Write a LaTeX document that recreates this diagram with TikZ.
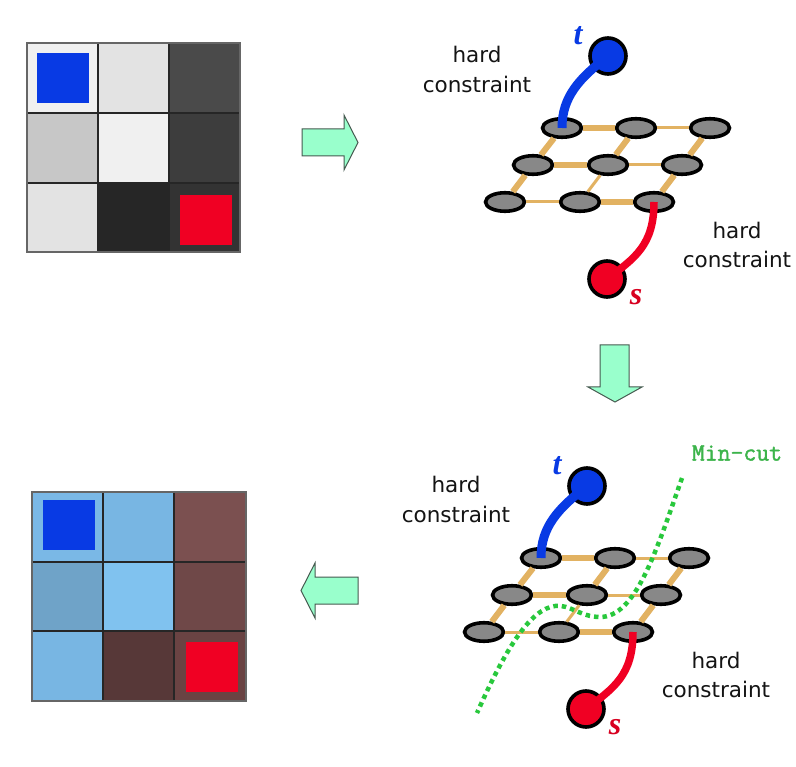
\documentclass[tikz,border=0pt]{standalone}
\usepackage{fontspec}
\newfontfamily\labelsans{DejaVu Sans}
\newfontfamily\termserif{Liberation Serif}
\newfontfamily\cutmono[FakeBold=1.6]{Latin Modern Mono}
\usetikzlibrary{shapes.geometric}

\definecolor{edgetan}{RGB}{226,178,98}
\definecolor{vtxgray}{RGB}{136,136,136}
\definecolor{sinkblue}{RGB}{8,58,228}
\definecolor{srcred}{RGB}{240,0,35}
\definecolor{arrowmint}{RGB}{153,255,204}
\definecolor{arrowedge}{RGB}{70,90,80}
\definecolor{cutgreen}{RGB}{40,200,60}
\definecolor{cuttext}{RGB}{60,180,75}
% segmented image palette
\definecolor{segA}{RGB}{122,184,230}
\definecolor{segB}{RGB}{120,182,227}
\definecolor{segC}{RGB}{123,80,80}
\definecolor{segD}{RGB}{111,163,200}
\definecolor{segE}{RGB}{128,194,239}
\definecolor{segF}{RGB}{111,72,72}
\definecolor{segG}{RGB}{87,56,56}
\definecolor{segH}{RGB}{106,67,67}

\tikzset{
  vtx/.style={ellipse, draw=black, line width=3.6pt, fill=vtxgray,
    minimum width=39pt, minimum height=18.5pt, inner sep=0pt},
  linkthick/.style={draw=edgetan, line width=6pt},
  linkthin/.style={draw=edgetan, line width=3pt},
  terminal/.style={circle, draw=black, line width=3.6pt,
    minimum size=36pt, inner sep=0pt},
  tlink/.style={draw=sinkblue, line width=9pt},
  slink/.style={draw=srcred, line width=7.5pt},
  termlabel/.style={font=\termserif\bfseries\itshape\fontsize{32}{32}\selectfont, inner sep=0pt},
  hardlabel/.style={font=\labelsans\fontsize{21.5}{29.5}\selectfont, align=center,
    text=black!92, inner sep=0pt},
  flowarrow/.style={fill=arrowmint, draw=arrowedge, line width=1pt, line join=miter},
  cellgrid/.style={draw=black!85, line width=1.2pt},
  cellframe/.style={draw=black!60, line width=1.6pt},
}

% s-t graph on a 3x3 lattice with its two hard constraints; #1 is a name prefix
\newcommand\stlattice[2]{%
\begin{scope}[shift={#2}]
  \node[vtx] (#1-11) at (562,128) {};
  \node[vtx] (#1-12) at (636,128) {};
  \node[vtx] (#1-13) at (710,128) {};
  \node[vtx] (#1-21) at (533,165) {};
  \node[vtx] (#1-22) at (608,165) {};
  \node[vtx] (#1-23) at (682,165) {};
  \node[vtx] (#1-31) at (505,202) {};
  \node[vtx] (#1-32) at (580,202) {};
  \node[vtx] (#1-33) at (654,202) {};
  % horizontal links
  \draw[linkthick] (#1-11) -- (#1-12);
  \draw[linkthin]  (#1-12) -- (#1-13);
  \draw[linkthick] (#1-21) -- (#1-22);
  \draw[linkthin]  (#1-22) -- (#1-23);
  \draw[linkthin]  (#1-31) -- (#1-32);
  \draw[linkthick] (#1-32) -- (#1-33);
  % slanted links
  \draw[linkthick] (#1-11) -- (#1-21);
  \draw[linkthick] (#1-21) -- (#1-31);
  \draw[linkthick] (#1-12) -- (#1-22);
  \draw[linkthin]  (#1-22) -- (#1-32);
  \draw[linkthick] (#1-13) -- (#1-23);
  \draw[linkthick] (#1-23) -- (#1-33);
  % terminals
  \node[terminal, fill=sinkblue] (#1-t) at (608,56) {};
  \node[terminal, fill=srcred] (#1-s) at (607,279) {};
  \draw[tlink] (#1-t.center) .. controls (580,78) and (562,96) .. (#1-11.center);
  \draw[slink] (#1-33.center) .. controls (654,245) and (635,258) .. (#1-s.center);
  \node[termlabel, text=sinkblue] (#1-tl) at (578,36) {t};
  \node[termlabel, text=srcred!90!black] (#1-sl) at (636,297) {s};
  \node[hardlabel] (#1-h1) at (477,69.5) {hard\\constraint};
  \node[hardlabel] (#1-h2) at (737,245) {hard\\constraint};
\end{scope}}

\begin{document}
\begin{tikzpicture}[x=1pt,y=-1pt]
\useasboundingbox (0,0) rectangle (796,767);
\fill[white] (0,0) rectangle (796,767);

% input image: 3x3 intensities with seeds
\fill[black!6]  (27,43)   rectangle (98,113);
\fill[black!11] (98,43)   rectangle (169,113);
\fill[black!71] (169,43)  rectangle (240,113);
\fill[black!22] (27,113)  rectangle (98,183);
\fill[black!6]  (98,113)  rectangle (169,183);
\fill[black!76] (169,113) rectangle (240,183);
\fill[black!11] (27,183)  rectangle (98,252);
\fill[black!85] (98,183)  rectangle (169,252);
\fill[black!80] (169,183) rectangle (240,252);
\draw[cellgrid] (98,43) -- (98,252) (169,43) -- (169,252) (27,113) -- (240,113) (27,183) -- (240,183);
\draw[cellframe] (27,43) rectangle (240,252);
\fill[sinkblue] (37,53) rectangle (89,103);
\fill[srcred] (180,195) rectangle (232,245);

% segmented image
\fill[segA] (32,492)  rectangle (103,562);
\fill[segB] (103,492) rectangle (174,562);
\fill[segC] (174,492) rectangle (246,562);
\fill[segD] (32,562)  rectangle (103,631);
\fill[segE] (103,562) rectangle (174,631);
\fill[segF] (174,562) rectangle (246,631);
\fill[segB] (32,631)  rectangle (103,701);
\fill[segG] (103,631) rectangle (174,701);
\fill[segH] (174,631) rectangle (246,701);
\draw[cellgrid] (103,492) -- (103,701) (174,492) -- (174,701) (32,562) -- (246,562) (32,631) -- (246,631);
\draw[cellframe] (32,492) rectangle (246,701);
\fill[sinkblue] (43,500) rectangle (95,550);
\fill[srcred] (186,642) rectangle (238,692);

% process arrows
\draw[flowarrow] (302,129) -- (344,129) -- (344,115) -- (358,142.5) -- (344,170) -- (344,156) -- (302,156) -- cycle;
\draw[flowarrow] (600,345) -- (629,345) -- (629,387) -- (642,387) -- (615,402) -- (588,387) -- (600,387) -- cycle;
\draw[flowarrow] (358,577) -- (315,577) -- (315,563) -- (301,590.5) -- (315,618) -- (315,604) -- (358,604) -- cycle;

% graphs
\stlattice{g}{(0,0)}
\stlattice{c}{(-21,430)}

% minimum cut
\draw[cutgreen, line width=4.5pt, dash pattern=on 4.5pt off 4pt]
  (682,478) .. controls (655,555) and (635,617) .. (600,617)
  .. controls (580,617) and (570,604) .. (555,606)
  .. controls (530,609) and (505,650) .. (477,713);
\node[font=\cutmono\fontsize{25}{25}\selectfont, text=cuttext, inner sep=0pt] (cutlabel) at (737,453) {Min-cut};
\end{tikzpicture}
\end{document}
